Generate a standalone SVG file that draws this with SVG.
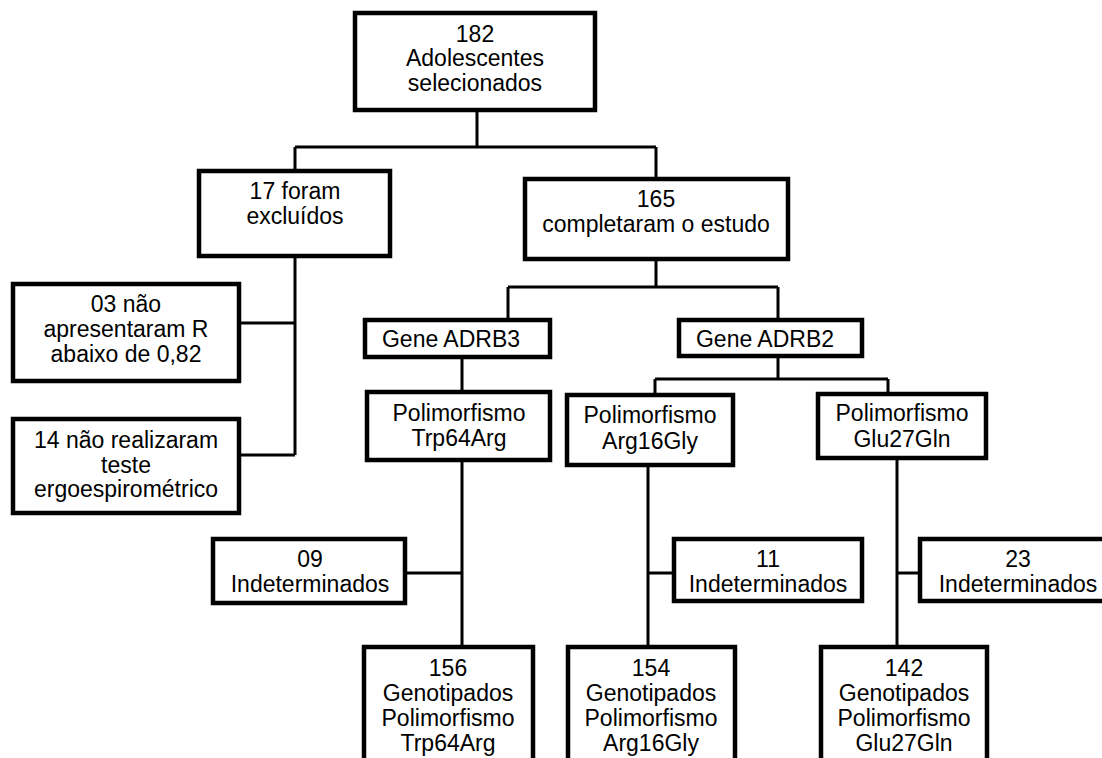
<svg xmlns="http://www.w3.org/2000/svg" width="1102" height="758" viewBox="0 0 1102 758">
<style>
.box{fill:#fff;stroke:#000;stroke-width:4.5}
.ln{fill:none;stroke:#000;stroke-width:3}
text{font-family:"Liberation Sans",Arial,sans-serif;font-size:23px;fill:#000;text-anchor:middle}
</style>
<rect width="1102" height="758" fill="#fff"/>
<g id="connectors" class="ln">
<path class="ln" d="M477,112V147M295,147H656M295,147V169M656,147V177"/>
<path class="ln" d="M295,258V455M241,323H295M241,455H295"/>
<path class="ln" d="M656,261V287M508,287H778M508,287V318M778,287V318"/>
<path class="ln" d="M462,359V390M462,462V645M407,573H462"/>
<path class="ln" d="M778,358V379M655,379H888M655,379V393M888,379V392"/>
<path class="ln" d="M648,467V645M648,573H672"/>
<path class="ln" d="M897,460V645M897,573H918"/>
</g>
<g id="n182"><rect class="box" x="355" y="13" width="240" height="97"/>
<text x="475" y="42">182</text><text x="475" y="66">Adolescentes</text><text x="475" y="91">selecionados</text></g>
<g id="n17"><rect class="box" x="199" y="171" width="191" height="85"/>
<text x="295" y="199">17 foram</text><text x="295" y="224">excluídos</text></g>
<g id="n165"><rect class="box" x="525" y="179" width="263" height="80"/>
<text x="656" y="207">165</text><text x="656" y="232">completaram o estudo</text></g>
<g id="n03"><rect class="box" x="13" y="284" width="226" height="97"/>
<text x="126" y="312">03 não</text><text x="126" y="337">apresentaram R</text><text x="126" y="362">abaixo de 0,82</text></g>
<g id="n14"><rect class="box" x="13" y="419" width="226" height="94"/>
<text x="126" y="448">14 não realizaram</text><text x="126" y="473">teste</text><text x="126" y="497">ergoespirométrico</text></g>
<g id="adrb3"><rect class="box" x="365" y="320" width="185" height="37"/>
<text x="451" y="347">Gene ADRB3</text></g>
<g id="adrb2"><rect class="box" x="679" y="320" width="183" height="36"/>
<text x="765" y="347">Gene ADRB2</text></g>
<g id="trp"><rect class="box" x="367" y="392" width="183" height="68"/>
<text x="459" y="421">Polimorfismo</text><text x="459" y="446">Trp64Arg</text></g>
<g id="arg"><rect class="box" x="567" y="395" width="166" height="70"/>
<text x="650" y="423">Polimorfismo</text><text x="650" y="449">Arg16Gly</text></g>
<g id="glu"><rect class="box" x="818" y="394" width="168" height="64"/>
<text x="902" y="421">Polimorfismo</text><text x="902" y="447">Glu27Gln</text></g>
<g id="n09"><rect class="box" x="213" y="539" width="192" height="64"/>
<text x="310" y="567">09</text><text x="310" y="592">Indeterminados</text></g>
<g id="n11"><rect class="box" x="674" y="539" width="188" height="62"/>
<text x="768" y="567">11</text><text x="768" y="592">Indeterminados</text></g>
<g id="n23"><rect class="box" x="920" y="539" width="190" height="62"/>
<text x="1018" y="567">23</text><text x="1018" y="592">Indeterminados</text></g>
<g id="n156"><rect class="box" x="364" y="647" width="169" height="125"/>
<text x="448" y="676">156</text><text x="448" y="701">Genotipados</text><text x="448" y="726">Polimorfismo</text><text x="448" y="751">Trp64Arg</text></g>
<g id="n154"><rect class="box" x="568" y="647" width="167" height="125"/>
<text x="651" y="676">154</text><text x="651" y="701">Genotipados</text><text x="651" y="726">Polimorfismo</text><text x="651" y="751">Arg16Gly</text></g>
<g id="n142"><rect class="box" x="821" y="647" width="166" height="125"/>
<text x="904" y="676">142</text><text x="904" y="701">Genotipados</text><text x="904" y="726">Polimorfismo</text><text x="904" y="751">Glu27Gln</text></g>
</svg>
